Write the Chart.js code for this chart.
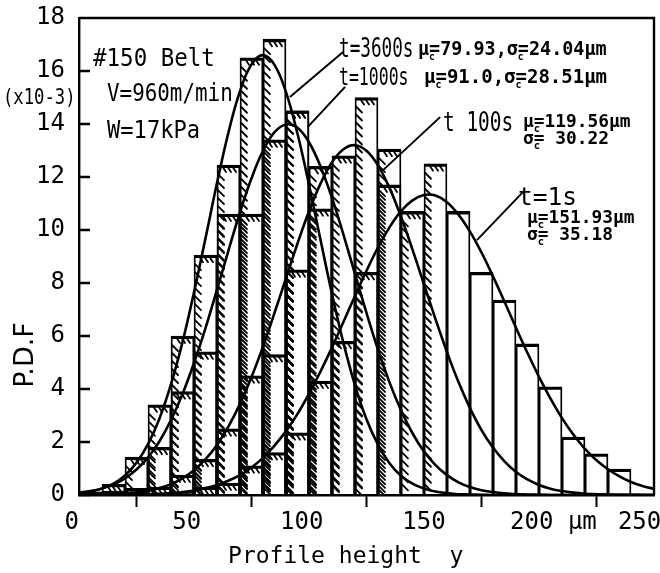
<!DOCTYPE html>
<html>
<head>
<meta charset="utf-8">
<script src="https://cdn.jsdelivr.net/npm/chart.js@4.4.0/dist/chart.umd.min.js"></script>
<style>html, body { margin: 0; padding: 0; background: #fff; }</style>
</head>
<body>
<canvas id="chart_pdf" width="660" height="573"></canvas>
<script>
const MONO = '"DejaVu Sans Mono", "Liberation Mono", monospace';

// histogram bins (centres, um) and bar heights (x10^-3)
const binCenters = [5, 15, 25, 35, 45, 55, 65, 75, 85, 95, 105, 115, 125, 135, 145, 155, 165, 175, 185, 195, 205, 215, 225, 235, 245];
const bars3600 = [0.12, 0.4, 1.43, 3.4, 6.0, 9.05, 12.45, 16.5, 17.2, 14.5, null, null, null, null, null, null, null, null, null, null, null, null, null, null, null];
const bars1000 = [0.1, 0.15, 0.25, 1.8, 3.9, 5.4, 10.6, 10.6, 13.4, 14.5, 12.4, null, null, null, null, null, null, null, null, null, null, null, null, null, null];
const bars100 = [null, null, 0.1, 0.3, 0.75, 1.35, 2.5, 4.5, 5.3, 8.5, 10.8, 12.8, 15.0, 13.05, null, null, null, null, null, null, null, null, null, null, null];
const bars1 = [null, null, null, null, 0.1, 0.3, 0.45, 1.1, 1.6, 2.35, 4.3, 5.8, 8.4, 11.7, 10.7, 12.5, 10.7, 8.4, 7.36, 5.7, 4.08, 2.19, 1.55, 0.98, null];

// fitted curves, read every 5 um
const curveX = [0, 5, 10, 15, 20, 25, 30, 35, 40, 45, 50, 55, 60, 65, 70, 75, 80, 85, 90, 95, 100, 105, 110, 115, 120, 125, 130, 135, 140, 145, 150, 155, 160, 165, 170, 175, 180, 185, 190, 195, 200, 205, 210, 215, 220, 225, 230, 235, 240, 245, 250];
const curve3600 = [0.07, 0.13, 0.24, 0.43, 0.74, 1.22, 1.92, 2.89, 4.18, 5.77, 7.65, 9.69, 11.77, 13.69, 15.24, 16.25, 16.6, 16.23, 15.2, 13.63, 11.71, 9.63, 7.59, 5.73, 4.14, 2.86, 1.9, 1.2, 0.73, 0.43, 0.24, 0.13, 0.07, 0.03, 0.02, 0.01, 0, 0, 0, 0, 0, 0, 0, 0, 0, 0, 0, 0, 0, 0, 0];
const curve1000 = [0.09, 0.15, 0.25, 0.4, 0.63, 0.96, 1.42, 2.03, 2.83, 3.81, 4.98, 6.3, 7.75, 9.23, 10.67, 11.95, 12.99, 13.69, 13.98, 13.86, 13.31, 12.4, 11.21, 9.82, 8.34, 6.87, 5.49, 4.25, 3.2, 2.33, 1.64, 1.13, 0.75, 0.48, 0.3, 0.18, 0.11, 0.06, 0.03, 0.02, 0.01, 0, 0, 0, 0, 0, 0, 0, 0, 0, 0];
const curve100 = [0.01, 0.01, 0.02, 0.03, 0.06, 0.1, 0.16, 0.26, 0.41, 0.63, 0.93, 1.35, 1.89, 2.59, 3.44, 4.45, 5.6, 6.87, 8.18, 9.49, 10.71, 11.75, 12.56, 13.05, 13.2, 12.99, 12.44, 11.59, 10.5, 9.26, 7.95, 6.64, 5.39, 4.26, 3.28, 2.45, 1.79, 1.27, 0.87, 0.59, 0.38, 0.24, 0.15, 0.09, 0.05, 0.03, 0.02, 0.01, 0.01, 0, 0];
const curve1 = [0, 0, 0, 0.01, 0.01, 0.02, 0.03, 0.05, 0.07, 0.11, 0.17, 0.26, 0.37, 0.54, 0.75, 1.04, 1.4, 1.86, 2.41, 3.06, 3.82, 4.66, 5.57, 6.54, 7.51, 8.46, 9.34, 10.1, 10.71, 11.12, 11.32, 11.3, 11.05, 10.58, 9.94, 9.15, 8.25, 7.29, 6.31, 5.36, 4.46, 3.64, 2.9, 2.27, 1.74, 1.31, 0.97, 0.7, 0.49, 0.34, 0.23];

// axis ticks
const xTickValues = [0, 50, 100, 150, 200, 250];
const xTickLabels = ['0 ', '50 ', '100 ', '150', '   200 μm ', '250  '];

// labels and where their leader lines start / end (um, x10^-3)
const seriesNames = ['t=3600s', 't=1000s', 't 100s', 't=1s'];
const leaderFrom = [[114.8, 16.72], [115.7, 15.4], [157, 14.26], [193, 11.43]];
const leaderTo = [[91.7, 15.02], [99.6, 13.9], [132.2, 12.26], [173, 9.62]];

function barSet(vals, hatchBelow) {
    return {
        type: 'bar',
        data: binCenters.map((x, k) => ({x: x, y: vals[k]})),
        backgroundColor: 'rgba(0,0,0,0)',
        borderColor: '#000',
        borderWidth: {top: 2.6, left: 1.2, right: 1.2, bottom: 0},
        borderSkipped: false,
        barPercentage: 1,
        categoryPercentage: 1,
        grouped: false,
        hatchBelow: hatchBelow
    };
}
function curveSet(vals) {
    return {
        type: 'line',
        data: curveX.map((x, k) => ({x: x, y: vals[k]})),
        borderColor: '#000',
        borderWidth: 2.6,
        pointRadius: 0,
        tension: 0.4,
        fill: false
    };
}

// text drawn horizontally squeezed, parts: [text, size, weight, dy, advance]
function drawParts(ctx, parts, x, y, k) {
    let cx = x;
    parts.forEach(p => {
        const [text, size, weight, dy, adv] = p;
        ctx.font = weight + ' ' + size + 'px ' + MONO;
        const w = ctx.measureText(text).width * k;
        ctx.save();
        ctx.translate(cx, y + (dy || 0));
        ctx.scale(k, 1);
        ctx.fillText(text, 0, 0);
        ctx.restore();
        cx += adv === undefined ? w : adv;
    });
}
function sub(ch, size) { return [ch, size, 'bold', 5, 0]; }

const hatchPlugin = {
    id: 'hatch',
    afterDatasetsDraw(chart) {
        const ctx = chart.ctx, a = chart.chartArea;
        ctx.save();
        ctx.beginPath();
        ctx.rect(a.left, a.top, a.right - a.left, a.bottom - a.top);
        ctx.clip();
        ctx.strokeStyle = '#000';
        ctx.lineWidth = 1.8;
        ctx.lineCap = 'round';
        chart.data.datasets.forEach((ds, i) => {
            if (ds.type !== 'bar' || !ds.hatchBelow) return;
            chart.getDatasetMeta(i).data.forEach((bar, j) => {
                const pt = ds.data[j];
                if (pt.y === null || pt.x > ds.hatchBelow) return;
                const p = bar.getProps(['x', 'y', 'base', 'width'], true);
                const left = p.x - p.width / 2, right = p.x + p.width / 2;
                ctx.beginPath();
                for (let xx = left + 5; xx < right - 5; xx += 5) {
                    ctx.moveTo(xx, p.y + 1);
                    ctx.lineTo(xx + 4, p.y + 7);
                }
                for (let yy = p.y + 9; yy < p.base - 4; yy += 8) {
                    ctx.moveTo(left + 1, yy);
                    ctx.lineTo(left + 7, yy + 6);
                }
                ctx.stroke();
            });
        });
        ctx.restore();
    }
};

const framePlugin = {
    id: 'frame',
    afterDraw(chart) {
        const ctx = chart.ctx, a = chart.chartArea;
        const xs = chart.scales.x, ys = chart.scales.y;
        ctx.save();
        ctx.strokeStyle = '#000';
        ctx.lineWidth = 2.4;
        ctx.beginPath();
        ctx.moveTo(a.left, a.top);
        ctx.lineTo(a.right, a.top);
        ctx.lineTo(a.right, a.bottom);
        ys.ticks.forEach(t => {
            const py = ys.getPixelForValue(t.value);
            ctx.moveTo(a.left, py);
            ctx.lineTo(a.left + 11, py);
        });
        ctx.stroke();

        ctx.lineWidth = 2;
        ctx.beginPath();
        leaderFrom.forEach((f, i) => {
            ctx.moveTo(xs.getPixelForValue(f[0]), ys.getPixelForValue(f[1]));
            ctx.lineTo(xs.getPixelForValue(leaderTo[i][0]), ys.getPixelForValue(leaderTo[i][1]));
        });
        ctx.stroke();

        ctx.fillStyle = '#000';
        ctx.textBaseline = 'alphabetic';
        ctx.textAlign = 'left';
        drawParts(ctx, [['#150 Belt', 25, 'normal']], 93, 66, 0.9);
        drawParts(ctx, [['V=960m/min', 24, 'normal']], 107, 101, 0.87);
        drawParts(ctx, [['W=17kPa', 24, 'normal']], 107, 138, 0.92);
        drawParts(ctx, [['(x10-3)', 21, 'normal']], 3, 104, 0.82);

        drawParts(ctx, [[seriesNames[0], 26, 'normal']], 339, 57, 0.68);
        drawParts(ctx, [['μ', 19, 'bold'], sub('c', 10), ['=79.93,σ', 19, 'bold'], sub('c', 10), ['=24.04μm', 19, 'bold']], 418, 55, 0.97);
        drawParts(ctx, [[seriesNames[1], 25, 'normal']], 339, 85, 0.66);
        drawParts(ctx, [['μ', 19, 'bold'], sub('c', 10), ['=91.0,σ', 19, 'bold'], sub('c', 10), ['=28.51μm', 19, 'bold']], 424, 83, 1.0);
        drawParts(ctx, [[seriesNames[2], 27, 'normal']], 443, 131, 0.72);
        drawParts(ctx, [['μ', 17, 'bold'], sub('c', 10), ['=119.56μm', 17, 'bold']], 523, 127, 1.05);
        drawParts(ctx, [['σ', 17, 'bold'], sub('c', 10), ['= 30.22', 17, 'bold']], 523, 144, 1.05);
        drawParts(ctx, [[seriesNames[3], 25, 'normal']], 518, 205, 0.98);
        drawParts(ctx, [['μ', 17, 'bold'], sub('c', 10), ['=151.93μm', 17, 'bold']], 527, 223, 1.05);
        drawParts(ctx, [['σ', 17, 'bold'], sub('c', 10), ['= 35.18', 17, 'bold']], 527, 240, 1.05);

        ctx.save();
        ctx.translate(26, 355);
        ctx.rotate(-Math.PI / 2);
        ctx.textAlign = 'center';
        ctx.textBaseline = 'middle';
        ctx.font = '27px "DejaVu Sans", sans-serif';
        ctx.fillText('P.D.F', 0, 0);
        ctx.restore();
        ctx.restore();
    }
};

const chart_pdf = new Chart(document.getElementById('chart_pdf'), {
    type: 'bar',
    data: {
        datasets: [
            barSet(bars3600, 999),
            barSet(bars1000, 999),
            barSet(bars100, 999),
            barSet(bars1, 160),
            curveSet(curve3600),
            curveSet(curve1000),
            curveSet(curve100),
            curveSet(curve1)
        ]
    },
    options: {
        responsive: false,
        animation: false,
        devicePixelRatio: 1,
        layout: { padding: { top: 18, right: 6, left: 0, bottom: 0 } },
        plugins: {
            legend: { display: false },
            tooltip: { enabled: false }
        },
        scales: {
            x: {
                type: 'linear',
                min: 0,
                max: 250,
                offset: false,
                afterBuildTicks: function(scale) {
                    scale.ticks = xTickValues.map(v => ({value: v}));
                },
                afterFit: function(scale) {
                    scale.height = 78;
                    scale.paddingLeft = 0;
                    scale.paddingRight = 0;
                },
                ticks: {
                    autoSkip: false,
                    maxRotation: 0,
                    padding: 1,
                    color: '#000',
                    font: { family: MONO, size: 24 },
                    callback: function(value) {
                        return xTickLabels[xTickValues.indexOf(value)];
                    }
                },
                grid: {
                    drawOnChartArea: false,
                    drawTicks: true,
                    tickLength: 12,
                    tickColor: '#000',
                    tickWidth: 2
                },
                border: { display: true, color: '#000', width: 2.4 },
                title: {
                    display: true,
                    text: 'Profile height  y   ',
                    color: '#000',
                    font: { family: MONO, size: 23 },
                    padding: { top: 0, bottom: 2 }
                }
            },
            y: {
                min: 0,
                max: 18,
                afterFit: function(scale) {
                    scale.width = 79;
                    scale.paddingTop = 0;
                    scale.paddingBottom = 0;
                },
                ticks: {
                    stepSize: 2,
                    padding: 14,
                    color: '#000',
                    font: { family: MONO, size: 24 }
                },
                grid: { drawOnChartArea: false, drawTicks: false },
                border: { display: true, color: '#000', width: 2.4 }
            }
        }
    },
    plugins: [hatchPlugin, framePlugin]
});
</script>
</body>
</html>
